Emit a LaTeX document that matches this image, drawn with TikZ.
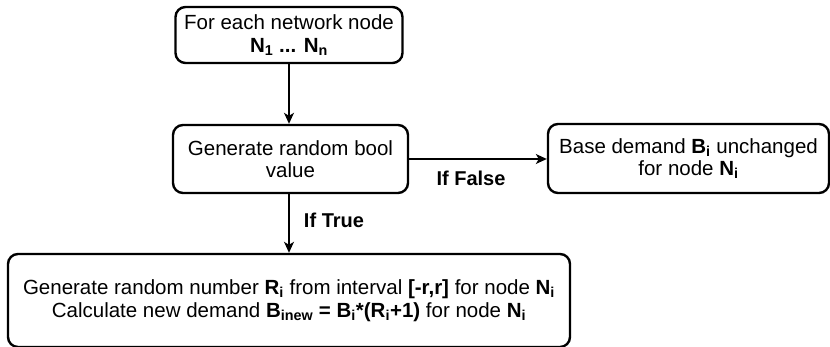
\documentclass[tikz,border=0pt]{standalone}
\usepackage{fontspec}
\setmainfont{Liberation Sans}
\usetikzlibrary{arrows.meta}
\newcommand{\sbs}[1]{\textsubscript{#1}}
\tikzset{
  box/.style={draw=black, line width=2.4pt, rounded corners=10pt, align=center,
    inner sep=0pt, font=\fontsize{20.5}{22.5}\selectfont},
  conn/.style={line width=1.3pt, -{Stealth[length=11pt,width=10pt,inset=3pt]}},
  lbl/.style={font=\fontsize{20}{23}\selectfont\bfseries, inner sep=0pt}
}
\begin{document}
\begin{tikzpicture}[x=1pt,y=1pt]
\useasboundingbox (0,0) rectangle (830,347);
\node[box, minimum width=227pt, minimum height=56pt] (top) at (289,312)
  {For each network node\\ \textbf{N\sbs{1} ... N\sbs{n}}};
\node[box, minimum width=235pt, minimum height=68pt] (mid) at (290.5,188)
  {Generate random bool\\ value};
\node[box, minimum width=281pt, minimum height=69pt] (right) at (688.5,188.5)
  {Base demand \textbf{B\sbs{i}} unchanged\\ for node \textbf{N\sbs{i}}};
\node[box, minimum width=562pt, minimum height=93pt] (bot) at (289,46.5)
  {Generate random number \textbf{R\sbs{i}} from interval \textbf{[-r,r]} for node \textbf{N\sbs{i}}\\
   Calculate new demand \textbf{B\sbs{inew} = B\sbs{i}*(R\sbs{i}+1)} for node \textbf{N\sbs{i}}};
\draw[conn] (top.south) -- (top.south |- mid.north);
\draw[conn] (mid.east) -- (right.west |- mid.east);
\draw[conn] (top.south |- mid.south) -- (top.south |- bot.north);
\node[lbl] (lf) at (471,169) {If False};
\node[lbl] (lt) at (334,127) {If True};
\end{tikzpicture}
\end{document}
